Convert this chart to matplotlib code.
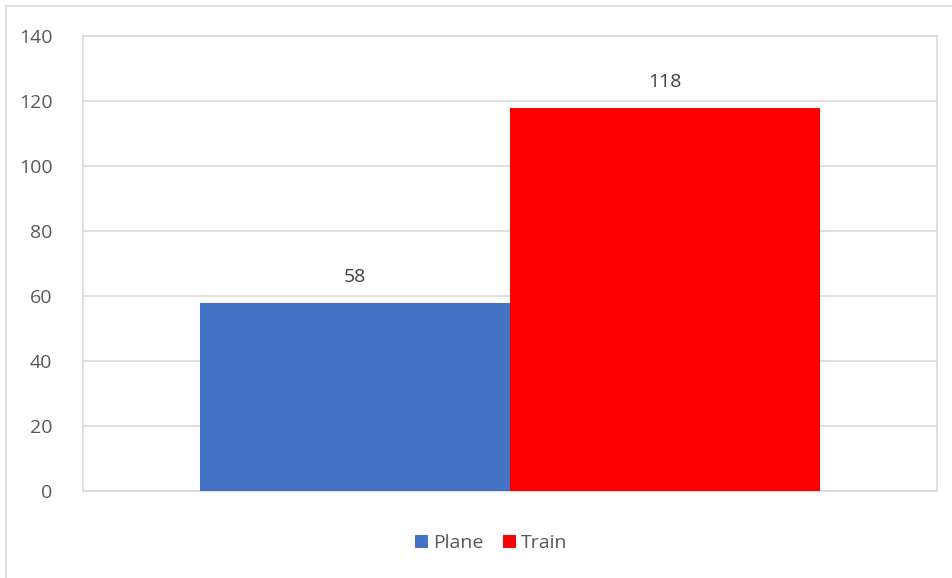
import matplotlib
matplotlib.use("Agg")
import matplotlib.pyplot as plt
from matplotlib.patches import Rectangle

categories = ["Plane", "Train"]
values = [58, 118]
colors = ["#4472C4", "#FF0000"]
y_ticks = [0, 20, 40, 60, 80, 100, 120, 140]

plt.rcParams['font.family'] = ['Open Sans', 'DejaVu Sans']

fig = plt.figure(figsize=(9.52, 5.78), dpi=100)
ax = fig.add_axes([83 / 952, 1 - 491 / 578, 854 / 952, 455 / 578])

# outer chart frame
fig.patches.append(Rectangle((6 / 952, -0.05), 1.05, 1 - 6 / 578 + 0.05,
                             transform=fig.transFigure, fill=False,
                             edgecolor="#d9d9d9", linewidth=1.2))

width = 0.363
offsets = [-width / 2, width / 2]
for name, val, col, off in zip(categories, values, colors, offsets):
    ax.bar(off, val, width=width, color=col, label=name, zorder=3)
    ax.text(off, val + 5, str(val), ha="center", va="bottom",
            fontsize=14, color="#404040")

ax.set_xlim(-0.5, 0.5)
ax.set_ylim(0, 140)
ax.set_yticks(y_ticks)
ax.set_xticks([])
ax.grid(axis="y", color="#d9d9d9", linewidth=1.2, zorder=0)
for sp in ax.spines.values():
    sp.set_color("#d9d9d9")
    sp.set_linewidth(1.2)
ax.tick_params(axis="y", length=0, labelsize=14, labelcolor="#595959", pad=22)

ax.legend(loc="center", bbox_to_anchor=(0.478, -0.115), ncol=2, frameon=False,
          fontsize=14, labelcolor="#595959", handlelength=0.7, handleheight=0.7,
          handletextpad=0.25, columnspacing=1.0)

fig.savefig("out.png", dpi=100)
